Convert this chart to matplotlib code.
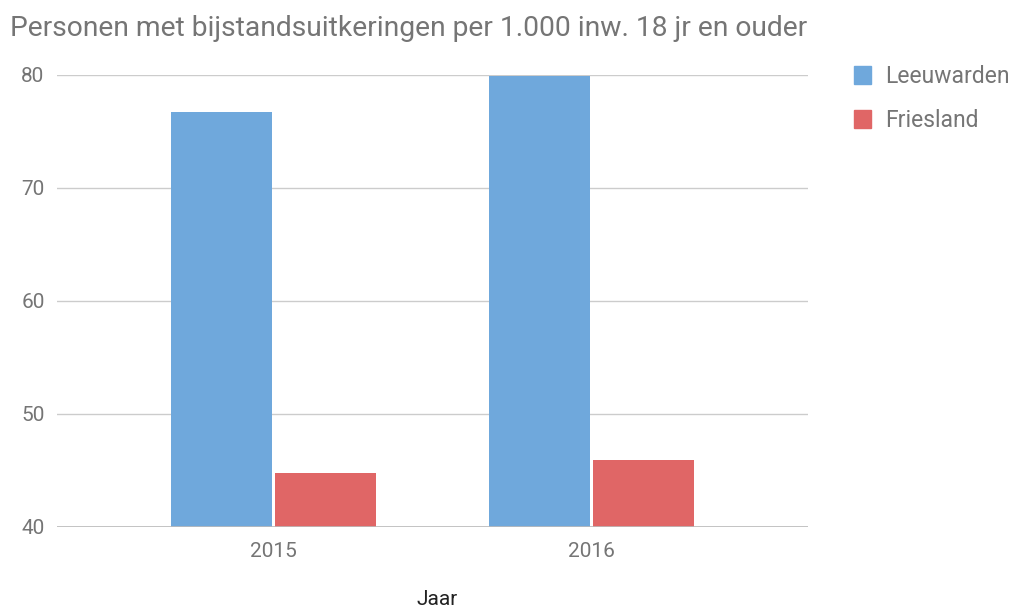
import matplotlib
matplotlib.use("Agg")
import matplotlib.pyplot as plt
import numpy as np
from matplotlib.patches import Patch

plt.rcParams["font.family"] = ["Roboto", "DejaVu Sans"]

# Data
YEARS = ["2015", "2016"]
LEEUWARDEN = [76.7, 79.9]
FRIESLAND = [44.8, 45.9]
SERIES = ["Leeuwarden", "Friesland"]

BLUE = "#6fa8dc"
RED = "#e06666"
TEXT = "#757575"
GRID = "#cccccc"

fig = plt.figure(figsize=(10.19, 6.09), dpi=100)
ax = fig.add_axes([0.056, 0.135, 0.737, 0.742])

x = np.arange(len(YEARS))
w = 0.318
ax.bar(x - w / 2 - 0.004, LEEUWARDEN, width=w, color=BLUE, zorder=3)
ax.bar(x + w / 2 + 0.004, FRIESLAND, width=w, color=RED, zorder=3)

ax.set_ylim(40, 80)
ax.set_xlim(-0.68, 1.68)
ax.set_yticks([40, 50, 60, 70, 80])
ax.set_xticks(x)
ax.set_xticklabels(YEARS)
ax.tick_params(axis="both", length=0, colors=TEXT, labelsize=15)
ax.tick_params(axis="x", pad=11)
ax.tick_params(axis="y", pad=9)
ax.grid(axis="y", color=GRID, linewidth=1, zorder=0)
for s in ax.spines.values():
    s.set_visible(False)
ax.axhline(40, color="#bbbbbb", linewidth=1.2, zorder=4)

fig.text(0.429, 0.015, "Jaar", color="#222222", fontsize=15, ha="center", va="center")

fig.text(0.01, 0.953, "Personen met bijstandsuitkeringen per 1.000 inw. 18 jr en ouder",
         fontsize=20.3, color=TEXT, va="center", ha="left")

handles = [Patch(color=BLUE), Patch(color=RED)]
fig.legend(handles, SERIES, loc="upper left", bbox_to_anchor=(0.818, 0.927),
           frameon=False, fontsize=16.5, labelcolor=TEXT, handlelength=0.75,
           handleheight=0.8, handletextpad=0.6, labelspacing=0.9)

fig.savefig("out.png", dpi=100)
